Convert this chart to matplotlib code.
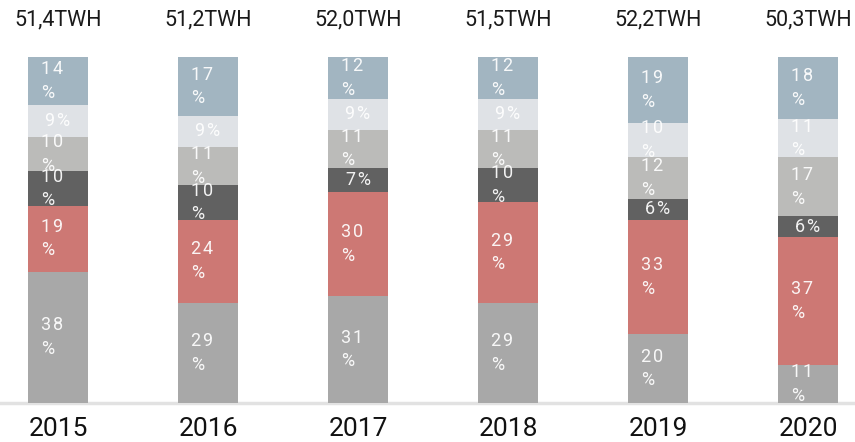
import numpy as np
import matplotlib
matplotlib.use('Agg')
import matplotlib.pyplot as plt

plt.rcParams['font.family'] = ['Roboto', 'DejaVu Sans']

# data
years = ['2015', '2016', '2017', '2018', '2019', '2020']
totals = ['51,4TWH', '51,2TWH', '52,0TWH', '51,5TWH', '52,2TWH', '50,3TWH']
# stacked shares, bottom to top
seg1 = [38, 29, 31, 29, 20, 11]
seg2 = [19, 24, 30, 29, 33, 37]
seg3 = [10, 10, 7, 10, 6, 6]
seg4 = [10, 11, 11, 11, 12, 17]
seg5 = [9, 9, 9, 9, 10, 11]
seg6 = [14, 17, 12, 12, 19, 18]
colors = ['#a8a8a8', '#cd7874', '#616161', '#bbbbb9', '#dfe2e6', '#a2b5c1']

series = [seg1, seg2, seg3, seg4, seg5, seg6]
x = np.arange(len(years))
w = 0.4
hs = '\u200a'  # hair space, to spread the digits a little

fig = plt.figure(figsize=(8.55, 4.42), dpi=100)
ax = fig.add_axes([0, 39/442, 1, 346/442])

bottom = np.zeros(len(years))
for vals, c in zip(series, colors):
    vals = np.array(vals, dtype=float)
    ax.bar(x, vals, w, bottom=bottom, color=c, zorder=2)
    for i, v in enumerate(vals):
        yc = bottom[i] + v / 2
        d = hs.join(str(int(v)))
        if v >= 10:
            ax.text(x[i] - w/2 + 0.085, yc, d + '\n%', ha='left', va='center',
                    color='white', alpha=0.92, fontsize=13, linespacing=1.4,
                    zorder=3)
        else:
            ax.text(x[i], yc, d + hs + '%', ha='center', va='center',
                    color='white', alpha=0.92, fontsize=13, zorder=3)
    bottom += vals

for i, t in enumerate(totals):
    ax.text(x[i], 110.7, t, ha='center', va='center', fontsize=15.5,
            color='#1a1a1a', clip_on=False)

ax.set_xlim(-58/150, (855-58)/150)
ax.set_ylim(0, 100)
ax.set_xticks(x)
ax.set_xticklabels(years, fontsize=19, color='#111111')
ax.tick_params(axis='x', length=0, pad=10)
ax.set_yticks([])
for s in ['top', 'left', 'right']:
    ax.spines[s].set_visible(False)
ax.spines['bottom'].set_color('#e2e2e2')
ax.spines['bottom'].set_linewidth(2.5)
ax.spines['bottom'].set_zorder(1)

fig.savefig('out.png', dpi=100)
